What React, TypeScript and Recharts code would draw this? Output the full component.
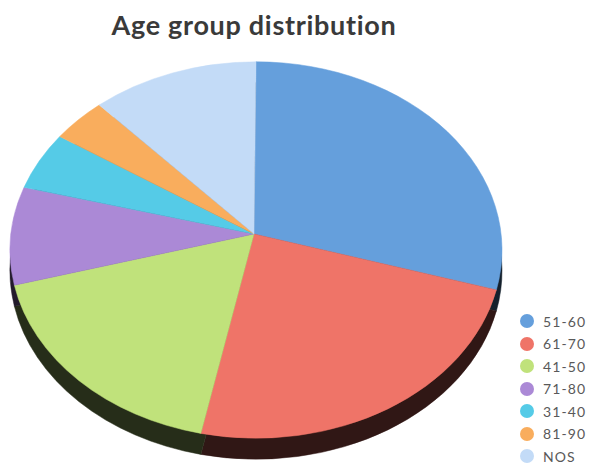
import { PieChart, Pie, Cell, Legend } from "recharts";

// age groups, clockwise from 12 o'clock
const LABELS = ["51-60", "61-70", "41-50", "71-80", "31-40", "81-90", "NOS"];
const VALUES = [28.4, 25.2, 18.4, 8.4, 4.9, 3.7, 11.0];
const COLORS = ["#659fdc", "#ef7468", "#c0e27b", "#ab89d6", "#55cbe7", "#f9ad5d", "#c3dbf7"];

const RATIO = 0.765; // vertical squash of the tilted pie
const APEX_DX = -2;
const APEX_DY = -16;
const DEPTH = 21;
const RAD = Math.PI / 180;

const DATA = LABELS.map((name, i) => ({ name, value: VALUES[i] }));

function darken(hex: string, k: number) {
  const n = parseInt(hex.slice(1), 16);
  const r = Math.round(((n >> 16) & 255) * k);
  const g = Math.round(((n >> 8) & 255) * k);
  const b = Math.round((n & 255) * k);
  return `rgb(${r},${g},${b})`;
}

function EllipseSector(props: any) {
  const { cx, cy, outerRadius, startAngle, endAngle, fill, shadow } = props;
  const rx = outerRadius;
  const ry = outerRadius * RATIO;
  const pt = (a: number) => [cx + rx * Math.cos(a * RAD), cy - ry * Math.sin(a * RAD)];
  const [x1, y1] = pt(startAngle);
  const [x2, y2] = pt(endAngle);
  const ax = cx + APEX_DX;
  const ay = cy + APEX_DY;
  const large = Math.abs(startAngle - endAngle) > 180 ? 1 : 0;
  const sweep = startAngle > endAngle ? 1 : 0;
  const d = `M${ax},${ay} L${x1},${y1} A${rx},${ry} 0 ${large} ${sweep} ${x2},${y2} Z`;
  const color = shadow ? darken(fill, 0.2) : fill;
  return <path d={d} fill={color} stroke={color} strokeWidth={0.5} />;
}

function LegendBox() {
  return (
    <div style={{ fontFamily: "Lato, sans-serif", fontSize: 14, color: "#595959" }}>
      {LABELS.map((l, i) => (
        <div key={l} style={{ display: "flex", alignItems: "center", height: 22.5 }}>
          <svg width={16} height={16} style={{ marginRight: 8 }}>
            <circle cx={8} cy={8} r={7} fill={COLORS[i]} />
          </svg>
          <span style={{ letterSpacing: 1.1 }}>{l}</span>
        </div>
      ))}
    </div>
  );
}

export default function App() {
  return (
    <div style={{ position: "absolute", left: 0, top: 0, width: 590, height: 466, background: "#fff", overflow: "hidden" }}>
      <div
        style={{
          position: "absolute",
          left: 0,
          top: 9,
          width: 508,
          textAlign: "center",
          fontFamily: "Lato, sans-serif",
          fontWeight: 700,
          fontSize: 27,
          letterSpacing: 0.7,
          lineHeight: "32px",
          color: "#3a3a3a",
        }}
      >
        Age group distribution
      </div>
      <PieChart
        width={590}
        height={466}
        margin={{ top: 0, right: 0, bottom: 0, left: 0 }}
        style={{ position: "absolute", left: 0, top: 0 }}
      >
        <Pie
          data={DATA}
          dataKey="value"
          nameKey="name"
          cx={256}
          cy={250 + DEPTH}
          outerRadius={246}
          startAngle={90}
          endAngle={-270}
          stroke="none"
          isAnimationActive={false}
          legendType="none"
          shape={(p: any) => <EllipseSector {...p} shadow />}
        >
          {DATA.map((d, i) => (
            <Cell key={d.name} fill={COLORS[i]} />
          ))}
        </Pie>
        <Pie
          data={DATA}
          dataKey="value"
          nameKey="name"
          cx={256}
          cy={250}
          outerRadius={246}
          startAngle={90}
          endAngle={-270}
          stroke="none"
          isAnimationActive={false}
          shape={(p: any) => <EllipseSector {...p} />}
        >
          {DATA.map((d, i) => (
            <Cell key={d.name} fill={COLORS[i]} />
          ))}
        </Pie>
        <Legend
          content={() => <LegendBox />}
          wrapperStyle={{ position: "absolute", left: 519, top: 310, width: 71 }}
        />
      </PieChart>
    </div>
  );
}
